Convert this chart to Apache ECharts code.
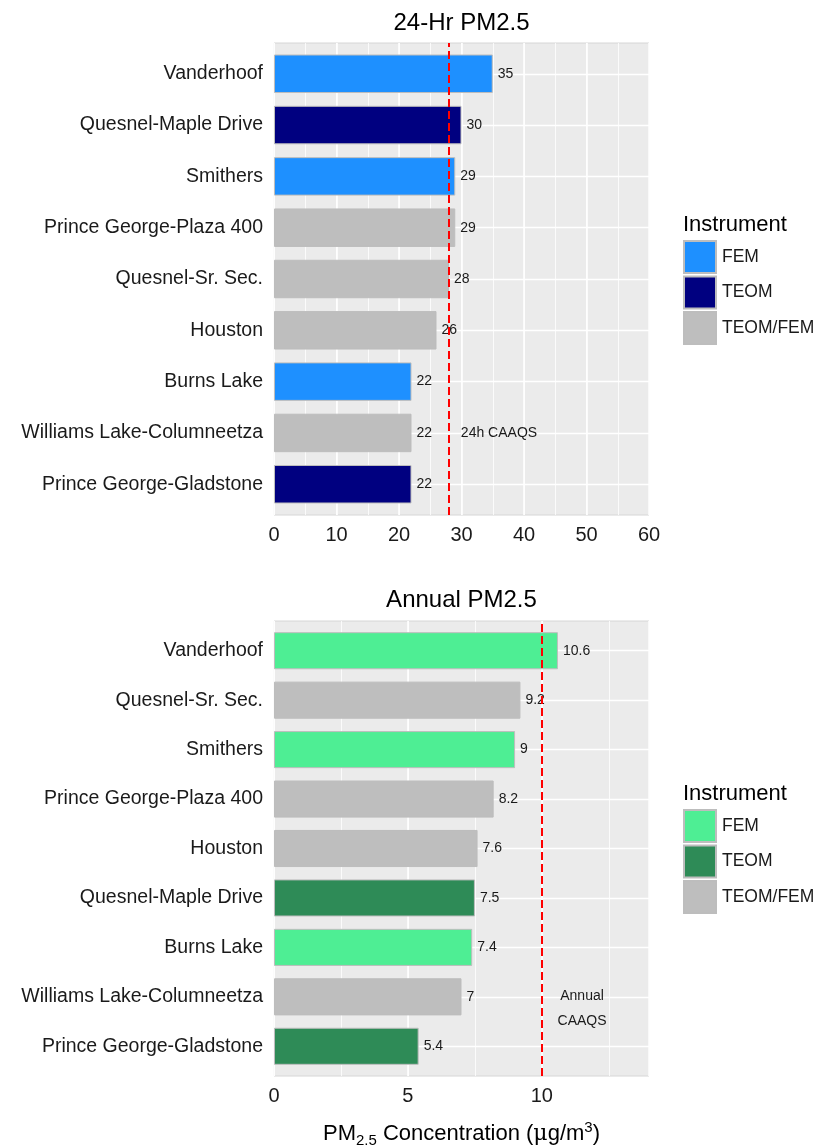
<!DOCTYPE html>
<html>
<head>
<meta charset="utf-8">
<script src="https://cdn.jsdelivr.net/npm/echarts@6/dist/echarts.min.js"></script>
<style>
  html, body { margin: 0; padding: 0; background: #ffffff; }
  #chart { width: 825px; height: 1146px; }
</style>
</head>
<body>
<div id="chart"></div>
<script>
// ---------- data ----------
const sites24 = ['Vanderhoof', 'Quesnel-Maple Drive', 'Smithers', 'Prince George-Plaza 400',
  'Quesnel-Sr. Sec.', 'Houston', 'Burns Lake', 'Williams Lake-Columneetza', 'Prince George-Gladstone'];
const pm24 = [35, 30, 29, 29, 28, 26, 22, 22, 22];
const inst24 = ['FEM', 'TEOM', 'FEM', 'TEOM/FEM', 'TEOM/FEM', 'TEOM/FEM', 'FEM', 'TEOM/FEM', 'TEOM'];

const sitesAnn = ['Vanderhoof', 'Quesnel-Sr. Sec.', 'Smithers', 'Prince George-Plaza 400',
  'Houston', 'Quesnel-Maple Drive', 'Burns Lake', 'Williams Lake-Columneetza', 'Prince George-Gladstone'];
const pmAnn = [10.6, 9.2, 9, 8.2, 7.6, 7.5, 7.4, 7, 5.4];
const instAnn = ['FEM', 'TEOM/FEM', 'FEM', 'TEOM/FEM', 'TEOM/FEM', 'TEOM', 'FEM', 'TEOM/FEM', 'TEOM'];

const instruments = ['FEM', 'TEOM', 'TEOM/FEM'];
const colors24 = ['#1E90FF', '#000080', '#BEBEBE'];
const colorsAnn = ['#4EEE94', '#2E8B57', '#BEBEBE'];

const ticks24 = [0, 10, 20, 30, 40, 50, 60];
const ticksAnn = [0, 5, 10];
const xMax24 = 60, xMaxAnn = 14;

const caaqs24 = 28, caaqsAnn = 10;
const title24 = '24-Hr PM2.5', titleAnn = 'Annual PM2.5';
const note24 = '24h CAAQS', noteAnn = 'Annual\nCAAQS';
const note24Pos = [36, 'Williams Lake-Columneetza'];
const noteAnnPos = [11.5, 'Williams Lake-Columneetza'];
const legendTitle = 'Instrument';

// ---------- styling ----------
const FONT = 'Liberation Sans, Arial, Helvetica, sans-serif';
const TXT = '#1A1A1A';
const PANEL_BG = '#EBEBEB';

const chart = echarts.init(document.getElementById('chart'), null, { renderer: 'canvas' });

function barSeries(sites, vals, insts, colors, suffix, xIdx, yIdx, stack) {
  return instruments.map((ins, k) => ({
    name: ins + suffix,
    type: 'bar',
    xAxisIndex: xIdx,
    yAxisIndex: yIdx,
    stack: stack,
    barWidth: '75%',
    z: 3,
    itemStyle: { color: colors[k], borderColor: '#BDBDBD', borderWidth: 1 },
    label: {
      show: true, position: 'right', distance: 5,
      fontFamily: FONT, fontSize: 14, color: TXT,
      formatter: p => String(p.value)
    },
    data: vals.map((v, i) => insts[i] === ins ? v : '-')
  }));
}

function hGridSeries(sites, xIdx, yIdx) {
  return {
    type: 'line', xAxisIndex: xIdx, yAxisIndex: yIdx, data: [], z: 1, silent: true,
    markLine: {
      z: 1, silent: true, symbol: ['none', 'none'], animation: false,
      label: { show: false },
      lineStyle: { color: '#FFFFFF', width: 1.4, type: 'solid' },
      data: sites.map((s, i) => ({ yAxis: i }))
    }
  };
}

function refLineSeries(val, xIdx, yIdx) {
  return {
    type: 'line', xAxisIndex: xIdx, yAxisIndex: yIdx, data: [], z: 10, silent: true,
    markLine: {
      z: 10, silent: true, symbol: ['none', 'none'], animation: false,
      label: { show: false },
      lineStyle: { color: '#FF0000', width: 2, type: [8, 4] },
      data: [{ xAxis: val }]
    }
  };
}

function noteSeries(text, pos, sites, xIdx, yIdx, offsetY) {
  return {
    type: 'line', xAxisIndex: xIdx, yAxisIndex: yIdx, data: [], z: 11, silent: true,
    markPoint: {
      z: 11, silent: true, animation: false,
      symbol: 'circle', symbolSize: 0,
      itemStyle: { color: 'transparent' },
      label: {
        show: true, position: 'inside', offset: [0, offsetY],
        fontFamily: FONT, fontSize: 14, color: TXT, lineHeight: 25,
        formatter: text
      },
      data: [{ coord: [pos[0], sites.indexOf(pos[1])] }]
    }
  };
}

function hiddenValueAxis(grid, max) {
  return { type: 'value', gridIndex: grid, min: 0, max: max, show: false, splitLine: { show: false } };
}

const panelL = 274, panelR = 825 - 649;

const option = {
  animation: false,
  backgroundColor: '#FFFFFF',
  textStyle: { fontFamily: FONT },
  grid: [
    { left: panelL, right: panelR, top: 43, bottom: 1146 - 515, show: true, backgroundColor: PANEL_BG, borderColor: '#D6D6D6', borderWidth: 1, z: 0 },
    { left: panelL, right: panelR, top: 48.1, bottom: 1146 - 509.9, show: false },
    { left: panelL, right: panelR, top: 621, bottom: 1146 - 1076, show: true, backgroundColor: PANEL_BG, borderColor: '#D6D6D6', borderWidth: 1, z: 0 },
    { left: panelL, right: panelR, top: 626, bottom: 1146 - 1071, show: false }
  ],
  xAxis: [
    // 0: top minor grid lines
    { type: 'value', gridIndex: 0, position: 'bottom', min: 0, max: xMax24, interval: (ticks24[1] - ticks24[0]) / 2,
      axisLine: { show: false }, axisTick: { show: false }, axisLabel: { show: false },
      splitLine: { show: true, lineStyle: { color: '#FFFFFF', width: 0.8 } } },
    // 1: top major + labels
    { type: 'value', gridIndex: 0, position: 'bottom', min: ticks24[0], max: xMax24, interval: ticks24[1] - ticks24[0],
      axisLine: { show: false }, axisTick: { show: false },
      axisLabel: { show: true, margin: 10, fontSize: 20, color: TXT, fontFamily: FONT },
      splitLine: { show: true, lineStyle: { color: '#FFFFFF', width: 1.6 } } },
    // 2: top bars (hidden)
    hiddenValueAxis(1, xMax24),
    // 3: bottom minor
    { type: 'value', gridIndex: 2, position: 'bottom', min: 0, max: xMaxAnn, interval: (ticksAnn[1] - ticksAnn[0]) / 2,
      axisLine: { show: false }, axisTick: { show: false }, axisLabel: { show: false },
      splitLine: { show: true, lineStyle: { color: '#FFFFFF', width: 0.8 } } },
    // 4: bottom major + labels
    { type: 'value', gridIndex: 2, position: 'bottom', min: ticksAnn[0], max: xMaxAnn, interval: ticksAnn[1] - ticksAnn[0],
      axisLine: { show: false }, axisTick: { show: false },
      axisLabel: { show: true, margin: 10, fontSize: 20, color: TXT, fontFamily: FONT, showMaxLabel: false,
        formatter: v => (ticksAnn.indexOf(v) >= 0 ? String(v) : '') },
      splitLine: { show: true, lineStyle: { color: '#FFFFFF', width: 1.6 } } },
    // 5: bottom bars (hidden)
    hiddenValueAxis(3, xMaxAnn)
  ],
  yAxis: [
    hiddenValueAxis(0, 1),
    { type: 'category', gridIndex: 1, data: sites24, inverse: true,
      axisLine: { show: false }, axisTick: { show: false }, splitLine: { show: false },
      axisLabel: { margin: 11, fontSize: 19.5, color: TXT, fontFamily: FONT, interval: 0 } },
    hiddenValueAxis(2, 1),
    { type: 'category', gridIndex: 3, data: sitesAnn, inverse: true,
      axisLine: { show: false }, axisTick: { show: false }, splitLine: { show: false },
      axisLabel: { margin: 11, fontSize: 19.5, color: TXT, fontFamily: FONT, interval: 0 } }
  ],
  legend: [
    { orient: 'vertical', left: 683, top: 240, padding: 0, itemGap: 1.5, itemWidth: 32, itemHeight: 32,
      icon: 'rect', selectedMode: false,
      textStyle: { fontSize: 17.5, color: TXT, fontFamily: FONT, padding: [0, 0, 0, 1] },
      data: instruments.map(n => n) },
    { orient: 'vertical', left: 683, top: 809, padding: 0, itemGap: 1.5, itemWidth: 32, itemHeight: 32,
      icon: 'rect', selectedMode: false,
      textStyle: { fontSize: 17.5, color: TXT, fontFamily: FONT, padding: [0, 0, 0, 1] },
      formatter: n => n.replace(' (annual)', ''),
      data: instruments.map(n => n + ' (annual)') }
  ],
  series: [
    hGridSeries(sites24, 2, 1),
    ...barSeries(sites24, pm24, inst24, colors24, '', 2, 1, 'top'),
    refLineSeries(caaqs24, 1, 0),
    noteSeries(note24, note24Pos, sites24, 2, 1, 0),
    hGridSeries(sitesAnn, 5, 3),
    ...barSeries(sitesAnn, pmAnn, instAnn, colorsAnn, ' (annual)', 5, 3, 'bot'),
    refLineSeries(caaqsAnn, 4, 2),
    noteSeries(noteAnn, noteAnnPos, sitesAnn, 5, 3, 12)
  ]
};

// text elements (titles, legend titles, axis title)
const cx = (panelL + (825 - panelR)) / 2;
option.graphic = [
  { type: 'text', x: cx, y: 23, silent: true,
    style: { text: title24, align: 'center', verticalAlign: 'middle', font: '24px ' + FONT, fill: '#000' } },
  { type: 'text', x: cx, y: 600, silent: true,
    style: { text: titleAnn, align: 'center', verticalAlign: 'middle', font: '24px ' + FONT, fill: '#000' } },
  { type: 'text', x: 683, y: 225, silent: true,
    style: { text: legendTitle, align: 'left', verticalAlign: 'middle', font: '22px ' + FONT, fill: '#000' } },
  { type: 'text', x: 683, y: 794, silent: true,
    style: { text: legendTitle, align: 'left', verticalAlign: 'middle', font: '22px ' + FONT, fill: '#000' } },
  { type: 'text', x: cx, y: 1134, silent: true,
    style: {
      text: '{n|PM}{sub|2.5}{n| Concentration (}{mu|\u03bc}{n|g/m}{sup|3}{n|)}',
      align: 'center', verticalAlign: 'middle',
      rich: {
        n: { fontSize: 22, fontFamily: FONT, color: '#000', lineHeight: 28 },
        mu: { fontSize: 22, fontFamily: 'DejaVu Serif, serif', color: '#000', lineHeight: 28 },
        sub: { fontSize: 15, fontFamily: FONT, color: '#000', lineHeight: 15, verticalAlign: 'bottom' },
        sup: { fontSize: 15, fontFamily: FONT, color: '#000', lineHeight: 15, verticalAlign: 'top' }
      }
    } }
];

chart.setOption(option);
</script>
</body>
</html>
